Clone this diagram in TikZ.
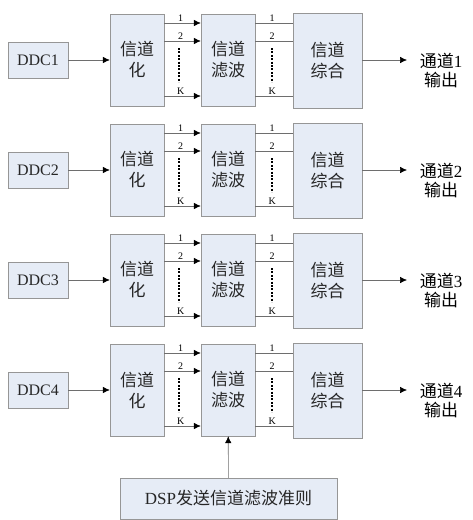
\documentclass[tikz,border=0pt]{standalone}
\usepackage{fontspec}
\setmainfont{Liberation Serif}
\newfontfamily\cjk{Noto Sans CJK SC}
\usetikzlibrary{arrows.meta}
\definecolor{boxfill}{RGB}{230,236,246}
\definecolor{boxline}{RGB}{150,150,150}
\definecolor{wire}{RGB}{110,110,110}
\tikzset{
  blk/.style={draw=boxline, fill=boxfill, inner sep=0pt, align=center, text=black!85,
    font=\cjk\fontsize{17}{21}\selectfont},
  chan/.style={font=\fontsize{10}{10}\selectfont, inner sep=1pt, above=0.5pt, pos=0.45},
  vdots/.style={line width=1.8pt, dash pattern=on 2pt off 1.4pt},
  wr/.style={draw=wire, line width=0.6pt}
}

\begin{document}
\begin{tikzpicture}[x=1pt, y=-1pt, >={Latex[length=7pt,width=6.5pt,black]}]
\useasboundingbox (0,0) rectangle (473,520);
\foreach \i/\c in {1/60, 2/170, 3/280, 4/390}{
  \node[blk, minimum width=60pt, minimum height=36pt, font=\fontsize{16}{18}\selectfont] (ddc\i) at (38,\c) {DDC\i};
  \node[blk, minimum width=54pt, minimum height=92pt] (hua\i) at (137,\c) {信道\\化};
  \node[blk, minimum width=54pt, minimum height=92pt] (lb\i) at (228,\c) {信道\\滤波};
  \node[blk, minimum width=69pt, minimum height=95pt] (zh\i) at (327.5,{\c+0.5}) {信道\\综合};
  \coordinate (out\i) at (407,\c);
  \node[align=center, font=\cjk\fontsize{17}{19}\selectfont, inner sep=0pt] (txt\i) at (441,{\c+10})
    {通道{\rmfamily\i}\\输出};
  \draw[wr, ->] (ddc\i) -- (hua\i);
  % channels 1, 2 ... K
  \draw[wr, ->] ([yshift=37pt]hua\i.east) -- node[chan]{1} ([yshift=37pt]lb\i.west);
  \draw[wr, ->] ([yshift=19pt]hua\i.east) -- node[chan]{2} ([yshift=19pt]lb\i.west);
  \draw[wr, ->] ([yshift=-36pt]hua\i.east) -- node[chan]{K} ([yshift=-36pt]lb\i.west);
  \draw[wr] ([yshift=37pt]lb\i.east) -- node[chan]{1} ([yshift=37pt]lb\i.east -| zh\i.west);
  \draw[wr] ([yshift=19pt]lb\i.east) -- node[chan]{2} ([yshift=19pt]lb\i.east -| zh\i.west);
  \draw[wr] ([yshift=-36pt]lb\i.east) -- node[chan]{K} ([yshift=-36pt]lb\i.east -| zh\i.west);
  \draw[vdots] (179,{\c-12}) -- (179,{\c+22});
  \draw[vdots] (272,{\c-12}) -- (272,{\c+22});
  \draw[wr, ->] (zh\i.east |- out\i) -- (out\i);
}
\node[blk, minimum width=217pt, minimum height=41pt, font=\fontsize{17}{21}\selectfont] (dsp) at (228.5,498.5)
  {DSP{\cjk 发送信道滤波准则}};
\draw[wr, ->] (dsp) -- (lb4);
\end{tikzpicture}
\end{document}
